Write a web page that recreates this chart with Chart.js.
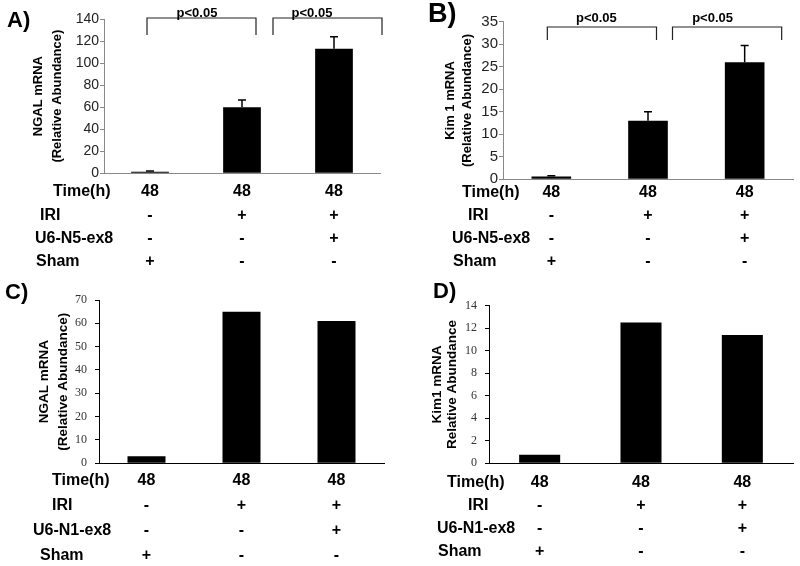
<!DOCTYPE html>
<html>
<head>
<meta charset="utf-8">
<script src="https://cdn.jsdelivr.net/npm/chart.js@4.4.1/dist/chart.umd.min.js"></script>
<style>
  body { margin: 0; background: #fff; }
  #page { position: relative; width: 800px; height: 566px; overflow: hidden; font-family: 'Liberation Sans', Arial, sans-serif; }
  .panel { position: absolute; width: 400px; height: 283px; }
  .letter { position: absolute; font-weight: bold; line-height: 1; color: #000; }
</style>
</head>
<body>
<div id="page">
  <div class="panel" style="left:0;top:0"><canvas id="chartA" width="400" height="283"></canvas></div>
  <div class="panel" style="left:400px;top:0"><canvas id="chartB" width="400" height="283"></canvas></div>
  <div class="panel" style="left:0;top:283px"><canvas id="chartC" width="400" height="283"></canvas></div>
  <div class="panel" style="left:400px;top:283px"><canvas id="chartD" width="400" height="283"></canvas></div>
  <div class="letter" style="left:7px;top:9px;font-size:22px">A)</div>
  <div class="letter" style="left:428px;top:0;font-size:27px">B)</div>
  <div class="letter" style="left:5px;top:281px;font-size:22px">C)</div>
  <div class="letter" style="left:433px;top:280px;font-size:22px">D)</div>
</div>
<script>
const FONT = "'Liberation Sans', Arial, sans-serif";
const SERIF = "'Liberation Serif', 'Times New Roman', serif";

// table under the bars (one column per group)
const timeRow = ['48', '48', '48'];
const iriRow = ['-', '+', '+'];
const vectorRow = ['-', '-', '+'];
const shamRow = ['+', '-', '-'];
const rowNamesTop = ['Time(h)', 'IRI', 'U6-N5-ex8', 'Sham'];
const rowNamesBottom = ['Time(h)', 'IRI', 'U6-N1-ex8', 'Sham'];

// A) NGAL, B) Kim 1 : mean and error
const ngalMeanA = [1.5, 60, 113];
const ngalErrA = [0.5, 6.4, 11];
const kimMeanB = [0.6, 13, 26];
const kimErrB = [0.2, 2, 3.7];

// C) NGAL, D) Kim1
const ngalC = [3, 65, 61];
const kimD = [0.75, 12.5, 11.4];

const pLabel = 'p<0.05';

const tableLabels = timeRow.map((t, i) => [t, iriRow[i], vectorRow[i], shamRow[i]]);

// error bars, significance brackets and row names
const extrasPlugin = {
  id: 'panelExtras',
  afterDraw(chart, args, opts) {
    const { ctx, chartArea, scales: { x, y } } = chart;
    const bars = chart.getDatasetMeta(0).data;
    const values = chart.data.datasets[0].data;
    ctx.save();
    ctx.strokeStyle = '#000';
    ctx.lineWidth = 1.5;
    (opts.errors || []).forEach((e, i) => {
      const bx = bars[i].x;
      const y0 = y.getPixelForValue(values[i]);
      const y1 = y.getPixelForValue(values[i] + e);
      ctx.beginPath();
      ctx.moveTo(bx, y0); ctx.lineTo(bx, y1);
      ctx.moveTo(bx - 4, y1); ctx.lineTo(bx + 4, y1);
      ctx.stroke();
    });

    ctx.strokeStyle = '#222';
    ctx.lineWidth = 1.2;
    ctx.fillStyle = '#000';
    ctx.font = 'bold 13px ' + FONT;
    ctx.textAlign = 'center';
    ctx.textBaseline = 'middle';
    (opts.brackets || []).forEach(b => {
      const x1 = x.getPixelForValue(b.from) + b.dx1;
      const x2 = x.getPixelForValue(b.to) + b.dx2;
      const top = chartArea.top + opts.bracketTop;
      const arm = chartArea.top + opts.bracketArm;
      ctx.beginPath();
      ctx.moveTo(x1, arm); ctx.lineTo(x1, top); ctx.lineTo(x2, top); ctx.lineTo(x2, arm);
      ctx.stroke();
      ctx.fillText(pLabel, (x1 + x2) / 2 + b.dxText, chartArea.top + opts.textY);
    });

    ctx.font = 'bold 16px ' + FONT;
    ctx.textAlign = 'left';
    opts.rowNames.forEach((name, i) => {
      ctx.fillText(name, opts.rowX[i], opts.rowFirst + i * opts.rowLH);
    });
    ctx.restore();
  }
};

function makePanel(canvasId, p) {
  const el = document.getElementById(canvasId);
  const H = el.height, W = el.width;
  return new Chart(el, {
    type: 'bar',
    data: {
      labels: tableLabels,
      datasets: [{
        data: p.values,
        backgroundColor: '#000',
        borderWidth: 0,
        barPercentage: p.barPct,
        categoryPercentage: 1
      }]
    },
    options: {
      responsive: false,
      animation: false,
      events: [],
      layout: { padding: { left: p.titleLeft, right: W - p.area.right, top: p.area.top, bottom: 0 } },
      plugins: {
        legend: { display: false },
        tooltip: { enabled: false },
        panelExtras: {
          errors: p.errors,
          brackets: p.brackets,
          bracketTop: p.bracketTop,
          bracketArm: p.bracketArm,
          textY: p.textY,
          rowNames: p.rowNames,
          rowX: p.rowX,
          rowFirst: p.rowFirst,
          rowLH: p.rowLH
        }
      },
      scales: {
        x: {
          grid: { display: false, drawTicks: false },
          border: { display: true, color: p.axisColor, width: 1 },
          ticks: {
            autoSkip: false,
            maxRotation: 0,
            color: '#000',
            padding: p.rowFirst - p.area.bottom - p.rowLH / 2,
            font: { family: FONT, size: 16, weight: 'bold', lineHeight: p.rowLH / 16 }
          },
          afterFit: s => { s.height = H - p.area.bottom; }
        },
        y: {
          min: 0,
          max: p.yMax,
          ticks: { stepSize: p.yStep, color: p.tickColor, padding: p.tickPad, font: p.tickFont },
          grid: { display: true, drawOnChartArea: false, drawTicks: true, tickLength: 4, color: p.axisColor },
          border: { display: true, color: p.axisColor, width: 1 },
          title: {
            display: true,
            text: p.yTitle,
            color: '#000',
            padding: 0,
            font: { family: FONT, size: p.titleSize, weight: 'bold', lineHeight: p.titleLH / p.titleSize }
          },
          afterFit: s => { s.width = p.area.left - p.titleLeft; }
        }
      }
    },
    plugins: [extrasPlugin]
  });
}

makePanel('chartA', {
  values: ngalMeanA, errors: ngalErrA, barPct: 0.41,
  area: { left: 104, right: 380, top: 19, bottom: 173.3 },
  yMax: 140, yStep: 20,
  yTitle: ['NGAL mRNA', '(Relative Abundance)'], titleSize: 13, titleLH: 19, titleLeft: 28.5,
  tickFont: { family: FONT, size: 14 }, tickColor: '#222', tickPad: 1, axisColor: '#888',
  brackets: [
    { from: 0, dx1: -3, to: 1, dx2: 14, dxText: -4.5 },
    { from: 1, dx1: 31, to: 2, dx2: 48, dxText: -15.5 }
  ],
  bracketTop: -1, bracketArm: 16, textY: -6,
  rowNames: rowNamesTop, rowX: [53, 40, 35, 36], rowFirst: 192, rowLH: 23.3
});

makePanel('chartB', {
  values: kimMeanB, errors: kimErrB, barPct: 0.41,
  area: { left: 103, right: 393, top: 21.7, bottom: 179.3 },
  yMax: 35, yStep: 5,
  yTitle: ['Kim 1 mRNA', '(Relative Abundance)'], titleSize: 13, titleLH: 17, titleLeft: 41.5,
  tickFont: { family: FONT, size: 15 }, tickColor: '#222', tickPad: 1, axisColor: '#888',
  brackets: [
    { from: 0, dx1: -4, to: 1, dx2: 8.5, dxText: -5.5 },
    { from: 1, dx1: 24.5, to: 2, dx2: 37, dxText: -14.5 }
  ],
  bracketTop: 5.3, bracketArm: 18.3, textY: -3.7,
  rowNames: rowNamesTop, rowX: [62, 68, 52, 53], rowFirst: 193, rowLH: 23
});

makePanel('chartC', {
  values: ngalC, barPct: 0.40,
  area: { left: 99, right: 384, top: 17, bottom: 180.3 },
  yMax: 70, yStep: 10,
  yTitle: ['NGAL mRNA', '(Relative Abundance)'], titleSize: 13.5, titleLH: 19, titleLeft: 34.5,
  tickFont: { family: SERIF, size: 12 }, tickColor: '#333', tickPad: 8, axisColor: '#000',
  rowNames: rowNamesBottom, rowX: [52, 52, 33, 40], rowFirst: 198, rowLH: 24.7
});

makePanel('chartD', {
  values: kimD, barPct: 0.405,
  area: { left: 89, right: 393, top: 22.7, bottom: 180.3 },
  yMax: 14, yStep: 2,
  yTitle: ['Kim1 mRNA', 'Relative Abundance'], titleSize: 13.5, titleLH: 15, titleLeft: 30,
  tickFont: { family: SERIF, size: 12 }, tickColor: '#333', tickPad: 8, axisColor: '#000',
  rowNames: rowNamesBottom, rowX: [47, 68, 37, 38], rowFirst: 200, rowLH: 22.7
});
</script>
</body>
</html>
